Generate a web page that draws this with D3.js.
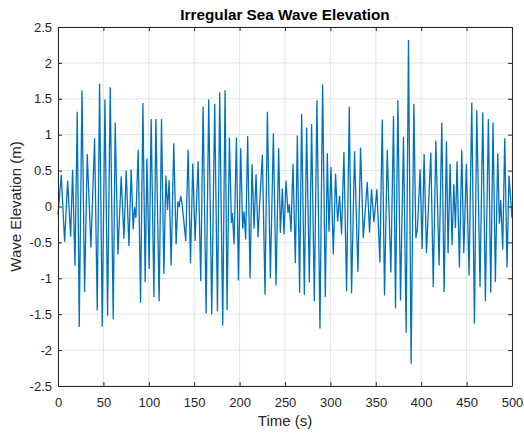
<!DOCTYPE html>
<html>
<head>
<meta charset="utf-8">
<script src="https://cdn.jsdelivr.net/npm/d3@7"></script>
<style>
  body { margin: 0; background: #fff; }
  svg { display: block; font-family: "Liberation Sans", Arial, sans-serif; }
</style>
</head>
<body>
<div id="chart"></div>
<script>
// extrema (time in s, elevation in m)
var timeS = [0, 3.6, 7.3, 10.6, 13.9, 16.1, 18.7, 21.2, 23.4, 26.4, 29.3, 32.2, 36.3, 40.3, 43.2, 45.8, 48.7,
  51.7, 54.6, 57.5, 60.8, 63.0, 66.0, 69.6, 72.6, 75.1, 78.1, 80.6, 82.8, 84.3, 85.8, 88.3, 90.9, 93.5, 96.0,
  97.9, 100.4, 102.6, 105.6, 107.8, 111.4, 114.0, 116.6, 118.8, 120.6, 122.4, 124.6, 127.5, 130.1, 132.0,
  133.4, 135.2, 136.7, 140.7, 143.3, 145.9, 148.4, 151.0, 154.3, 157.2, 159.8, 163.1, 166.0, 169.3, 172.6,
  175.6, 178.1, 181.4, 184.0, 186.2, 188.8, 191.0, 192.1, 193.9, 196.5, 198.7, 201.2, 203.4, 204.9, 206.7,
  208.9, 211.5, 213.7, 215.9, 218.1, 220.3, 221.8, 225.1, 228.0, 230.6, 233.9, 237.2, 240.1, 243.0, 244.9,
  247.1, 248.9, 251.1, 253.3, 254.8, 256.6, 258.8, 261.4, 263.6, 266.1, 268.3, 271.3, 273.8, 276.8, 279.3,
  282.3, 285.2, 288.5, 291.4, 294.4, 296.6, 298.4, 300.6, 303.2, 305.7, 307.9, 310.1, 312.3, 314.9, 317.8,
  320.8, 323.3, 326.6, 330.3, 333.2, 336.2, 340.6, 343.1, 345.3, 347.9, 351.2, 354.5, 357.1, 359.6, 362.6,
  366.6, 369.5, 371.7, 374.3, 377.2, 380.5, 383.4, 386.0, 388.9, 391.9, 394.1, 395.9, 398.8, 401.0, 403.2,
  405.8, 410.6, 413.3, 416.1, 419.7, 422.7, 425.2, 427.8, 429.6, 431.8, 434.0, 435.9, 437.7, 439.5, 442.1,
  444.7, 446.9, 449.8, 452.7, 455.7, 458.6, 461.2, 464.8, 467.8, 470.7, 474.0, 476.6, 479.1, 481.7, 484.3,
  486.1, 487.6, 489.8, 492.0, 494.5, 496.7, 500];
var elevM = [-0.12, 0.44, -0.49, 0.36, -0.42, 0.51, -0.83, 1.32, -1.68, 1.62, -1.19, 0.73, -0.57, 0.95, -1.45,
  1.71, -1.67, 1.49, -1.52, 1.66, -1.57, 1.17, -0.67, 0.42, -0.45, 0.50, -0.55, 0.52, -0.32, -0.01, -0.16,
  0.79, -1.34, 1.44, -1.05, 0.67, -0.87, 1.22, -1.26, 1.22, -1.32, 1.22, -0.94, 0.43, -0.05, 0.37, -0.82,
  0.88, -0.53, 0.07, -0.01, 0.15, 0.03, -0.48, 0.79, -0.79, 0.60, -0.48, 0.63, -1.04, 1.39, -1.49, 1.49,
  -1.50, 1.43, -1.46, 1.59, -1.66, 1.62, -1.44, 0.96, -0.23, -0.09, -0.53, 0.96, -1.03, 0.81, -0.31, -0.07,
  -0.46, 0.98, -1.00, 0.59, -0.31, 0.45, -0.43, -0.02, 0.72, -1.23, 1.32, -1.00, 1.02, -1.10, 0.81, -0.37,
  0.25, -0.39, 0.36, -0.09, 0.03, -0.35, 0.59, -0.79, 0.99, -1.20, 1.29, -1.23, 1.10, -1.06, 1.15, -1.32,
  1.48, -1.70, 1.70, -1.26, 0.74, -0.35, 0.55, -0.67, 0.46, -0.21, 0.15, -0.39, 0.76, -1.18, 1.39, -1.21,
  0.77, -0.91, 0.82, -0.44, 0.34, -0.36, 0.24, -0.22, 0.24, -0.78, 1.21, -1.24, 0.79, -0.92, 1.26, -1.42,
  1.48, -1.31, 0.97, -1.76, 2.32, -2.19, 1.43, -0.44, -0.30, 0.52, -0.59, 0.73, -0.65, 0.75, -1.12, 0.92,
  -0.82, 1.17, -1.19, 0.91, -0.65, 0.59, -0.54, 0.31, -0.30, 0.63, -0.85, 0.79, -0.65, 0.59, -0.96, 1.45,
  -1.63, 1.34, -1.12, 1.31, -1.32, 1.22, -1.20, 1.17, -1.05, 0.74, -0.24, 0.09, -0.60, 0.95, -0.85, 0.43,
  -0.16];
var xTicks = [0, 50, 100, 150, 200, 250, 300, 350, 400, 450, 500];
var yTicks = [-2.5, -2, -1.5, -1, -0.5, 0, 0.5, 1, 1.5, 2, 2.5];

var W = 524, H = 433;
var margin = {top: 27, right: 12, bottom: 47, left: 58};
var width = W - margin.left - margin.right,
    height = H - margin.top - margin.bottom;

var svg = d3.select("#chart").append("svg")
    .attr("width", W).attr("height", H);
var g = svg.append("g")
    .attr("transform", "translate(" + margin.left + "," + margin.top + ")");

var x = d3.scaleLinear().domain([0, 500]).range([0, width]);
var y = d3.scaleLinear().domain([-2.5, 2.5]).range([height, 0]);

// grid
g.append("g").selectAll("line").data(xTicks).enter().append("line")
    .attr("x1", function(d) { return x(d); }).attr("x2", function(d) { return x(d); })
    .attr("y1", 0).attr("y2", height)
    .attr("stroke", "#e3e3e3").attr("stroke-width", 1);
g.append("g").selectAll("line").data(yTicks).enter().append("line")
    .attr("y1", function(d) { return y(d); }).attr("y2", function(d) { return y(d); })
    .attr("x1", 0).attr("x2", width)
    .attr("stroke", "#e3e3e3").attr("stroke-width", 1);

var data = timeS.map(function(t, i) { return {t: t, v: elevM[i]}; });

var line = d3.line()
    .x(function(d) { return x(d.t); })
    .y(function(d) { return y(d.v); });

g.append("path").datum(data)
    .attr("fill", "none")
    .attr("stroke", "#0072BD")
    .attr("stroke-width", 1.3)
    .attr("d", line);

// axes, matlab style: inward ticks, box all round
function styleAxis(sel) {
  sel.select(".domain").attr("stroke", "#262626");
  sel.selectAll(".tick line").attr("stroke", "#262626");
  sel.selectAll("text").attr("fill", "#262626").style("font-size", "13px")
     .style("font-family", "Liberation Sans, Arial, sans-serif");
}

// plain hyphen for negatives, like the original
var fmt = function(d) { return String(d); };

g.append("g").attr("transform", "translate(0," + height + ")")
    .call(d3.axisBottom(x).tickValues(xTicks).tickSize(-4).tickSizeOuter(0).tickPadding(12).tickFormat(fmt))
    .call(styleAxis);
g.append("g")
    .call(d3.axisTop(x).tickValues(xTicks).tickSize(-4).tickSizeOuter(0).tickFormat(""))
    .call(styleAxis);
g.append("g")
    .call(d3.axisLeft(y).tickValues(yTicks).tickSize(-4).tickSizeOuter(0).tickPadding(6).tickFormat(fmt))
    .call(styleAxis);
g.append("g").attr("transform", "translate(" + width + ",0)")
    .call(d3.axisRight(y).tickValues(yTicks).tickSize(-4).tickSizeOuter(0).tickFormat(""))
    .call(styleAxis);

svg.append("text")
    .attr("x", margin.left + width / 2).attr("y", 20)
    .attr("text-anchor", "middle")
    .style("font-size", "15.3px").style("font-weight", "bold")
    .attr("fill", "#000")
    .text("Irregular Sea Wave Elevation");

svg.append("text")
    .attr("x", margin.left + width / 2).attr("y", 426)
    .attr("text-anchor", "middle")
    .style("font-size", "15px").attr("fill", "#262626")
    .text("Time (s)");

svg.append("text")
    .attr("transform", "translate(21," + (margin.top + height / 2) + ") rotate(-90)")
    .attr("text-anchor", "middle")
    .style("font-size", "15px").attr("fill", "#262626")
    .text("Wave Elevation (m)");
</script>
</body>
</html>
